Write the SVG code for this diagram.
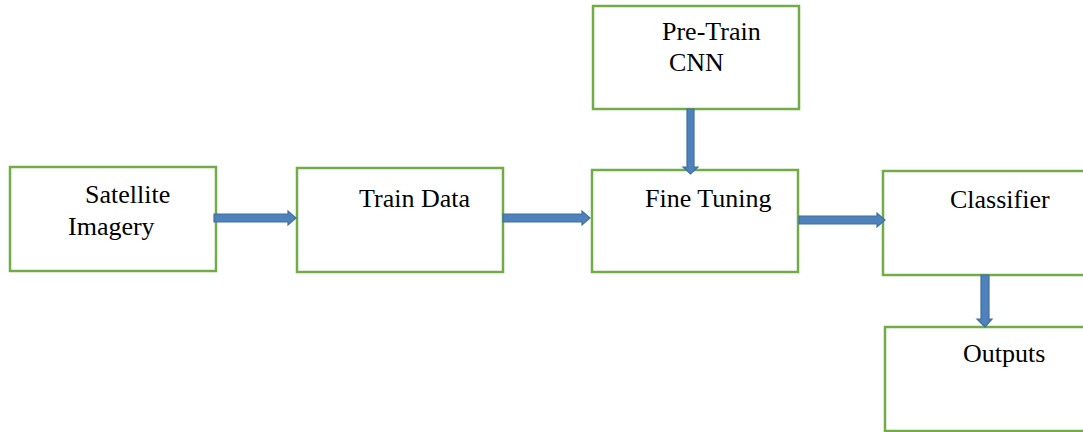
<svg xmlns="http://www.w3.org/2000/svg" width="1083" height="432" viewBox="0 0 1083 432">
  <style>
    .box { fill: #ffffff; stroke: #70AD47; stroke-width: 2.5; }
    .lbl { font-family: "Liberation Serif", "Times New Roman", serif; font-size: 26px; fill: #000000; }
    .arrow { fill: #4F81BD; stroke: #41719C; stroke-width: 1.2; stroke-linejoin: miter; }
  </style>
  <rect width="1083" height="432" fill="#ffffff"/>

  <g id="satellite-imagery">
    <rect class="box" x="10" y="167" width="206" height="104"/>
    <text class="lbl" x="85" y="203">Satellite</text>
    <text class="lbl" x="68" y="235">Imagery</text>
  </g>

  <g id="train-data">
    <rect class="box" x="297" y="168" width="206" height="104"/>
    <text class="lbl" x="359" y="207">Train Data</text>
  </g>

  <g id="pre-train-cnn">
    <rect class="box" x="593" y="6" width="206" height="103"/>
    <text class="lbl" x="662" y="40">Pre-Train</text>
    <text class="lbl" x="669" y="71">CNN</text>
  </g>

  <g id="fine-tuning">
    <rect class="box" x="592" y="170" width="206" height="102"/>
    <text class="lbl" x="645" y="207">Fine Tuning</text>
  </g>

  <g id="classifier">
    <rect class="box" x="883" y="171" width="210" height="104"/>
    <text class="lbl" x="950" y="208">Classifier</text>
  </g>

  <g id="outputs">
    <rect class="box" x="885" y="327" width="210" height="104"/>
    <text class="lbl" x="963" y="362">Outputs</text>
  </g>

  <g id="connectors">
    <!-- block arrows: shaft 8px, head 15px wide, 8px long -->
    <polygon class="arrow" points="214,214 288,214 288,211 296,218 288,225 288,222 214,222"/>
    <polygon class="arrow" points="503,214 582,214 582,211 590,218 582,225 582,222 503,222"/>
    <polygon class="arrow" points="799,216 877,216 877,213 885,220 877,227 877,224 799,224"/>
    <polygon class="arrow" points="687,109 694,109 694,167 698,167 690.5,174 683,167 687,167"/>
    <polygon class="arrow" points="981,275 989,275 989,319 992,319 985,327 977,319 981,319"/>
  </g>
</svg>
